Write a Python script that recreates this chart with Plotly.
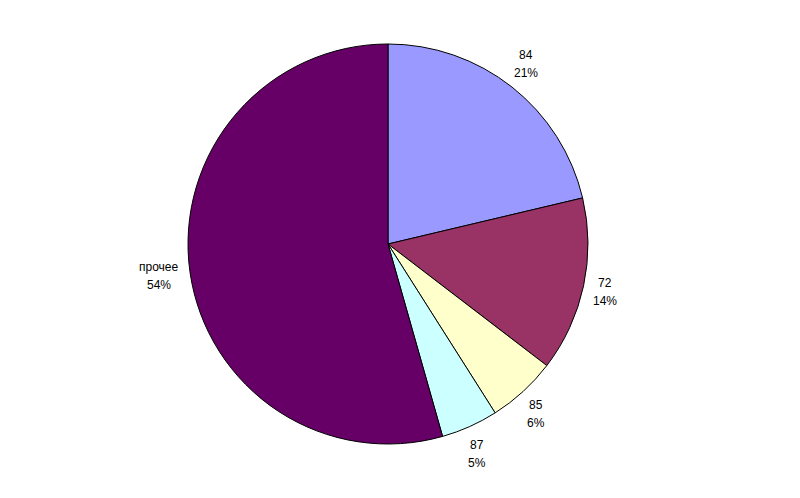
import math
import plotly.graph_objects as go

labels = ["84", "72", "85", "87", "прочее"]
values = [21.3, 14.1, 5.6, 4.6, 54.4]
colors = ["#9999FF", "#993366", "#FFFFCC", "#CCFFFF", "#660066"]

W, H = 800, 498
# the page body adds ~8px offset, so centre is placed accordingly
CX, CY, R = 380, 236, 200  # pie centre / radius in pixels (from top-left of figure)
GAP = 12          # distance of label box from pie edge
LINE = 18         # line spacing of the two-line labels
CHAR_W = 6.5      # approx. character width
FONT = "Liberation Sans, Arial, sans-serif"

dom_x = [(CX - R) / W, (CX + R) / W]
dom_y = [(H - CY - R) / H, (H - CY + R) / H]

fig = go.Figure(go.Pie(
    labels=labels,
    values=values,
    sort=False,
    direction="clockwise",
    rotation=0,
    marker=dict(colors=colors, line=dict(color="black", width=1)),
    textinfo="none",
    showlegend=False,
    hoverinfo="label+percent",
    domain=dict(x=dom_x, y=dom_y),
))

total = sum(values)
cum = 0.0
annotations = []
for lab, v in zip(labels, values):
    mid = (cum + v / 2) / total * 2 * math.pi
    cum += v
    pct = f"{round(v / total * 100)}%"
    bw = CHAR_W * max(len(lab), len(pct))
    bh = 2 * LINE
    s, c = math.sin(mid), math.cos(mid)
    px = CX + (R + GAP) * s + bw / 2 * s
    py = CY - (R + GAP) * c - bh / 2 * c
    for txt, dy in ((lab, -LINE / 2), (pct, LINE / 2)):
        annotations.append(dict(
            x=px / W, y=1 - (py + dy) / H, xref="paper", yref="paper",
            text=txt, showarrow=False, align="center",
            xanchor="center", yanchor="middle",
            font=dict(family=FONT, size=12, color="black"),
        ))

fig.update_layout(
    width=W, height=H,
    margin=dict(l=0, r=0, t=0, b=0),
    paper_bgcolor="white",
    plot_bgcolor="white",
    annotations=annotations,
)

fig.write_html("out.html")
